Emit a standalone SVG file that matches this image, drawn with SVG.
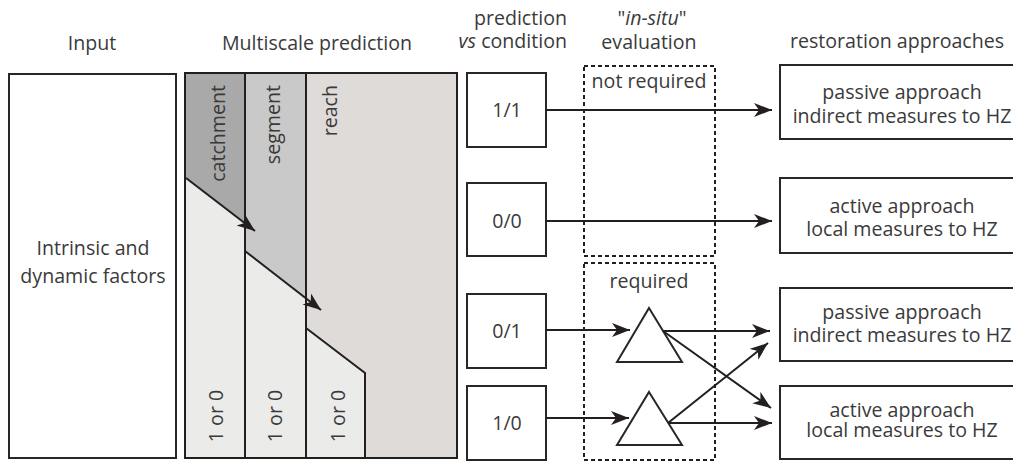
<svg xmlns="http://www.w3.org/2000/svg" width="1013" height="462" viewBox="0 0 1013 462">
<style>
text{font-family:"Open Sans","Noto Sans","DejaVu Sans",sans-serif;font-size:19.6px;fill:#3a3a3a}
.c{text-anchor:middle}
.box{fill:#fff;stroke:#2a2626;stroke-width:2}
.ln{fill:none;stroke:#231f20;stroke-width:2}
.dash{fill:none;stroke:#231f20;stroke-width:2;stroke-dasharray:4 3}
.arr{fill:none;stroke:#231f20;stroke-width:2;marker-end:url(#ah)}
</style>
<defs>
<marker id="ah" markerUnits="userSpaceOnUse" markerWidth="20" markerHeight="16" refX="18" refY="7" orient="auto">
<path d="M0,0 L18,7 L0,14 L5,7 Z" fill="#231f20"/>
</marker>
</defs>
<g id="headers">
<text class="c" x="92" y="50">Input</text>
<text class="c" x="317" y="50">Multiscale prediction</text>
<text x="567" y="25" text-anchor="end">prediction</text>
<text x="567" y="48" text-anchor="end"><tspan font-style="italic">vs</tspan> condition</text>
<text class="c" x="652" y="25">"<tspan font-style="italic">in-situ</tspan>"</text>
<text class="c" x="649" y="49">evaluation</text>
<text class="c" x="897" y="48">restoration approaches</text>
</g>
<g id="input">
<rect class="box" x="9" y="74" width="167" height="384"/>
<text class="c" x="93" y="255">Intrinsic and</text>
<text class="c" x="93" y="283">dynamic factors</text>
</g>
<g id="multiscale">
<rect x="185" y="73" width="272" height="385" fill="#dfdbd9"/>
<polygon points="185,73 245,73 245,224 185,178" fill="#a9a9a9"/>
<polygon points="185,178 245,224 245,458 185,458" fill="#ebebea"/>
<polygon points="245,73 306,73 306,298 245,251" fill="#c9c9c9"/>
<polygon points="245,251 306,298 306,458 245,458" fill="#ebebea"/>
<polygon points="306,328 365,373 365,458 306,458" fill="#ebebea"/>
<rect x="185" y="73" width="272" height="385" class="ln"/>
<line class="ln" x1="245" y1="73" x2="245" y2="458"/>
<line class="ln" x1="306" y1="73" x2="306" y2="458"/>
<polyline class="ln" points="306,328 365,373 365,458"/>
<text transform="translate(225,85) rotate(-90)" text-anchor="end">catchment</text>
<text transform="translate(280,85) rotate(-90)" text-anchor="end">segment</text>
<text transform="translate(337,85) rotate(-90)" text-anchor="end">reach</text>
<text transform="translate(223,416) rotate(-90)" class="c">1 or 0</text>
<text transform="translate(282,416) rotate(-90)" class="c">1 or 0</text>
<text transform="translate(345,416) rotate(-90)" class="c">1 or 0</text>
</g>
<g id="cond11"><rect class="box" x="467" y="73" width="79" height="74"/><text class="c" x="507" y="117">1/1</text></g>
<g id="cond00"><rect class="box" x="467" y="183" width="79" height="73"/><text class="c" x="507" y="228">0/0</text></g>
<g id="cond01"><rect class="box" x="467" y="294" width="79" height="74"/><text class="c" x="507" y="338">0/1</text></g>
<g id="cond10"><rect class="box" x="467" y="386" width="79" height="74"/><text class="c" x="507" y="430">1/0</text></g>
<g id="notrequired"><rect class="dash" x="584" y="66" width="131" height="190"/><text class="c" x="649" y="88">not required</text></g>
<g id="required"><rect class="dash" x="584" y="263" width="131" height="197"/><text class="c" x="649" y="288">required</text></g>
<g id="tri1"><polygon class="box" points="649,308 682,362 617,362"/></g>
<g id="tri2"><polygon class="box" points="649,392 682,445 617,445"/></g>
<g id="out1"><rect class="box" x="780" y="65" width="244" height="74"/><text class="c" x="902" y="99">passive approach</text><text class="c" x="902" y="123">indirect measures to HZ</text></g>
<g id="out2"><rect class="box" x="780" y="178" width="244" height="75"/><text class="c" x="902" y="213">active approach</text><text class="c" x="902" y="236">local measures to HZ</text></g>
<g id="out3"><rect class="box" x="780" y="288" width="244" height="73"/><text class="c" x="902" y="319">passive approach</text><text class="c" x="902" y="342">indirect measures to HZ</text></g>
<g id="out4"><rect class="box" x="780" y="386" width="244" height="73"/><text class="c" x="902" y="417">active approach</text><text class="c" x="902" y="437">local measures to HZ</text></g>
<g id="connectors">
<line class="arr" x1="186" y1="178" x2="255" y2="231"/>
<line class="arr" x1="245" y1="251" x2="321" y2="310"/>
<line class="arr" x1="546" y1="110" x2="772" y2="110"/>
<line class="arr" x1="546" y1="221" x2="772" y2="221"/>
<line class="arr" x1="546" y1="330" x2="630" y2="330"/>
<line class="arr" x1="546" y1="418" x2="629" y2="418"/>
<line class="arr" x1="663" y1="331" x2="770" y2="331"/>
<line class="arr" x1="663" y1="331" x2="771" y2="408"/>
<line class="arr" x1="668" y1="423" x2="772" y2="423"/>
<line class="arr" x1="668" y1="423" x2="768" y2="343"/>
</g>
</svg>
